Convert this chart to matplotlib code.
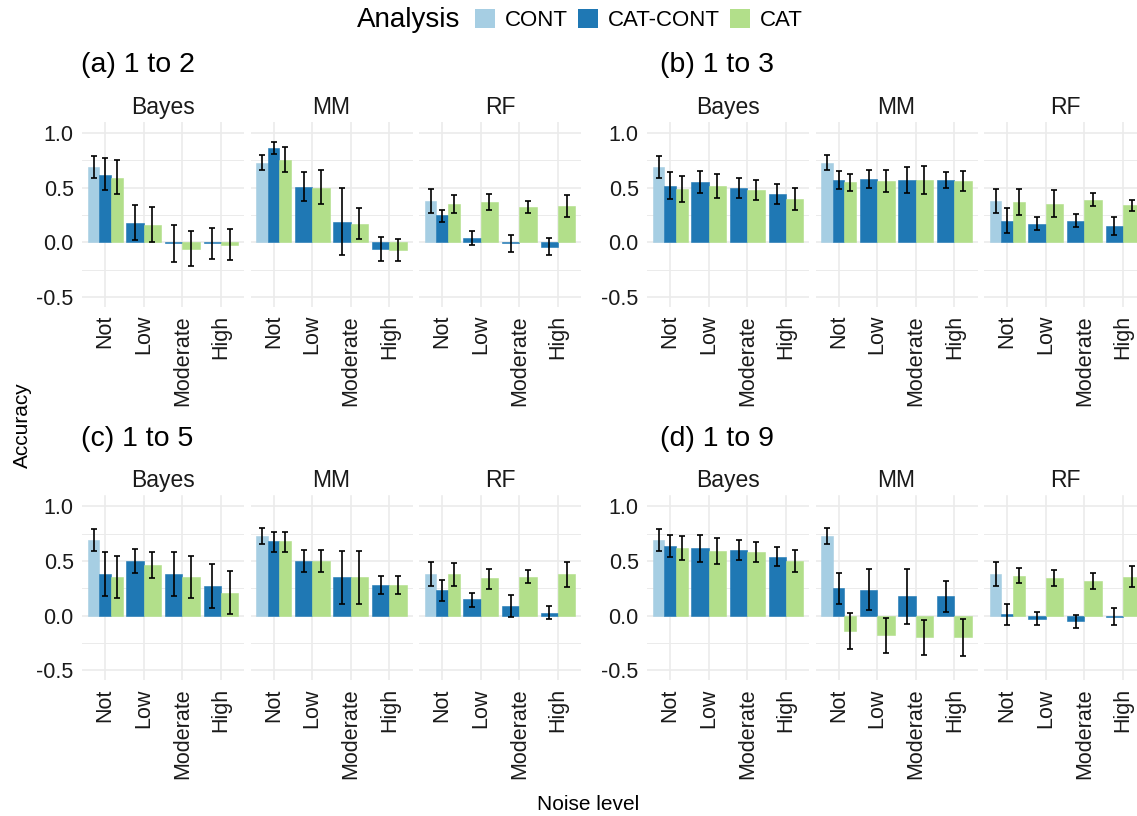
import numpy as np
import matplotlib.pyplot as plt
from matplotlib.patches import Patch

plt.rcParams['font.family'] = ['Liberation Sans', 'DejaVu Sans']

methods = ["Bayes", "MM", "RF"]
noise = ["Not", "Low", "Moderate", "High"]
analyses = ["CONT", "CAT-CONT", "CAT"]
colors = ["#A6CEE3", "#1F78B4", "#B2DF8A"]
titles = ["(a) 1 to 2", "(b) 1 to 3", "(c) 1 to 5", "(d) 1 to 9"]

# continuous analysis (only "Not" noise), per method: (mean, lower, upper)
cont = [(0.69, 0.59, 0.79), (0.73, 0.66, 0.80), (0.38, 0.27, 0.49)]

# rows = Bayes, MM, RF ; columns = Not, Low, Moderate, High ; (mean, lower, upper)
a_catcont = [[(0.62, 0.48, 0.77), (0.18, 0.02, 0.345), (-0.01, -0.18, 0.16), (-0.01, -0.15, 0.135)],
             [(0.865, 0.81, 0.92), (0.51, 0.38, 0.645), (0.19, -0.12, 0.50), (-0.06, -0.17, 0.05)],
             [(0.25, 0.19, 0.30), (0.04, -0.02, 0.10), (-0.01, -0.09, 0.07), (-0.04, -0.12, 0.04)]]
a_cat = [[(0.59, 0.44, 0.75), (0.16, 0.0, 0.32), (-0.06, -0.22, 0.10), (-0.02, -0.16, 0.12)],
         [(0.75, 0.64, 0.87), (0.50, 0.35, 0.66), (0.17, 0.03, 0.31), (-0.07, -0.17, 0.03)],
         [(0.35, 0.27, 0.43), (0.37, 0.30, 0.44), (0.32, 0.27, 0.375), (0.33, 0.23, 0.43)]]

b_catcont = [[(0.52, 0.40, 0.64), (0.55, 0.45, 0.65), (0.50, 0.41, 0.59), (0.44, 0.35, 0.53)],
             [(0.57, 0.49, 0.65), (0.58, 0.50, 0.66), (0.57, 0.45, 0.69), (0.57, 0.50, 0.64)],
             [(0.20, 0.09, 0.31), (0.17, 0.11, 0.23), (0.20, 0.14, 0.26), (0.15, 0.07, 0.23)]]
b_cat = [[(0.49, 0.37, 0.61), (0.52, 0.41, 0.63), (0.48, 0.39, 0.57), (0.40, 0.30, 0.50)],
         [(0.55, 0.47, 0.63), (0.56, 0.46, 0.66), (0.57, 0.44, 0.70), (0.56, 0.47, 0.65)],
         [(0.37, 0.25, 0.49), (0.35, 0.23, 0.48), (0.39, 0.33, 0.45), (0.34, 0.29, 0.39)]]

c_catcont = [[(0.38, 0.18, 0.58), (0.50, 0.39, 0.61), (0.38, 0.18, 0.58), (0.27, 0.065, 0.47)],
             [(0.68, 0.58, 0.77), (0.50, 0.40, 0.60), (0.35, 0.11, 0.59), (0.28, 0.20, 0.36)],
             [(0.235, 0.135, 0.33), (0.15, 0.08, 0.21), (0.085, -0.01, 0.19), (0.025, -0.035, 0.085)]]
c_cat = [[(0.355, 0.16, 0.55), (0.46, 0.34, 0.58), (0.355, 0.165, 0.55), (0.205, 0.01, 0.41)],
         [(0.68, 0.58, 0.77), (0.50, 0.40, 0.60), (0.35, 0.11, 0.59), (0.28, 0.20, 0.36)],
         [(0.38, 0.27, 0.48), (0.34, 0.245, 0.43), (0.355, 0.30, 0.42), (0.38, 0.265, 0.49)]]

d_catcont = [[(0.64, 0.54, 0.74), (0.62, 0.49, 0.74), (0.60, 0.51, 0.69), (0.54, 0.45, 0.63)],
             [(0.25, 0.11, 0.39), (0.235, 0.05, 0.43), (0.18, -0.075, 0.43), (0.18, 0.035, 0.32)],
             [(0.01, -0.09, 0.11), (-0.03, -0.09, 0.03), (-0.05, -0.11, 0.005), (-0.01, -0.09, 0.07)]]
d_cat = [[(0.62, 0.51, 0.73), (0.59, 0.47, 0.71), (0.58, 0.49, 0.67), (0.50, 0.40, 0.60)],
         [(-0.14, -0.305, 0.02), (-0.18, -0.34, -0.02), (-0.20, -0.365, -0.04), (-0.20, -0.375, -0.035)],
         [(0.365, 0.30, 0.44), (0.345, 0.275, 0.42), (0.315, 0.245, 0.39), (0.355, 0.265, 0.45)]]

panels = [(a_catcont, a_cat), (b_catcont, b_cat), (c_catcont, c_cat), (d_catcont, d_cat)]

W, H = 1137, 816
fig = plt.figure(figsize=(W / 100, H / 100), dpi=100)


def rect(left, top, width, height):
    return [left / W, 1 - (top + height) / H, width / W, height / H]


col_left = [82, 647]
row_top = [122.3, 495.5]
facet_w, facet_step, facet_h = 162, 168.5, 184.4
grid_col = "#EBEBEB"

for p, (catcont, cat) in enumerate(panels):
    r, c = divmod(p, 2)
    top = row_top[r]
    fig.text((col_left[c] + (-1 if c == 0 else 13)) / W, 1 - (top - 57) / H, titles[p],
             fontsize=20.5, va="center", ha="left")
    for m, meth in enumerate(methods):
        left = col_left[c] + m * facet_step
        ax = fig.add_axes(rect(left, top, facet_w, facet_h))
        ax.set_xlim(0.4, 4.6)
        ax.set_ylim(-0.59, 1.10)
        for s in ax.spines.values():
            s.set_visible(False)
        ax.set_yticks([-0.5, 0, 0.5, 1.0])
        ax.set_yticks([-0.25, 0.25, 0.75], minor=True)
        ax.set_xticks(range(1, 5))
        ax.grid(True, which="major", color=grid_col, lw=1.2)
        ax.grid(True, which="minor", axis="y", color=grid_col, lw=0.7)
        ax.set_axisbelow(True)
        ax.tick_params(which="both", length=0, labelsize=15.5, colors="#4D4D4D")
        ax.tick_params(axis="x", pad=6)
        ax.tick_params(axis="y", pad=6)
        ax.set_xticklabels(noise, rotation=90, color="#1A1A1A")
        if m == 0:
            ax.set_yticklabels(["-0.5", "0.0", "0.5", "1.0"], color="#1A1A1A")
        else:
            ax.set_yticklabels([])
        ax.set_title(meth, fontsize=16.5, pad=6, color="#1A1A1A")

        for i in range(4):
            x0 = i + 1
            if i == 0:
                vals = [cont[m], catcont[m][i], cat[m][i]]
                cols = colors
                w = 0.3
                offs = [-0.3, 0.0, 0.3]
            else:
                vals = [catcont[m][i], cat[m][i]]
                cols = colors[1:]
                w = 0.45
                offs = [-0.225, 0.225]
            for (mean, lo, hi), col, off in zip(vals, cols, offs):
                ax.bar(x0 + off, mean, width=w, color=col, edgecolor=col, linewidth=0.4)
                ax.errorbar(x0 + off, mean, yerr=[[mean - lo], [hi - mean]], fmt="none",
                            ecolor="black", elinewidth=1.2, capsize=2.2, capthick=1.2)

fig.text(22 / W, 1 - 425 / H, "Accuracy", rotation=90, fontsize=15, ha="center", va="center")
fig.text(588 / W, 1 - 804 / H, "Noise level", fontsize=15, ha="center", va="center")

fig.text(357 / W, 1 - 20 / H, "Analysis", fontsize=20, ha="left", va="center")
handles = [Patch(facecolor=col, edgecolor="none") for col in colors]
fig.legend(handles, analyses, loc="center left", bbox_to_anchor=(475 / W, 1 - 20 / H),
           ncol=3, frameon=False, fontsize=16, handlelength=0.9, handleheight=0.9,
           handletextpad=0.45, columnspacing=0.45, borderpad=0, borderaxespad=0)

fig.savefig("out.png", dpi=100)
